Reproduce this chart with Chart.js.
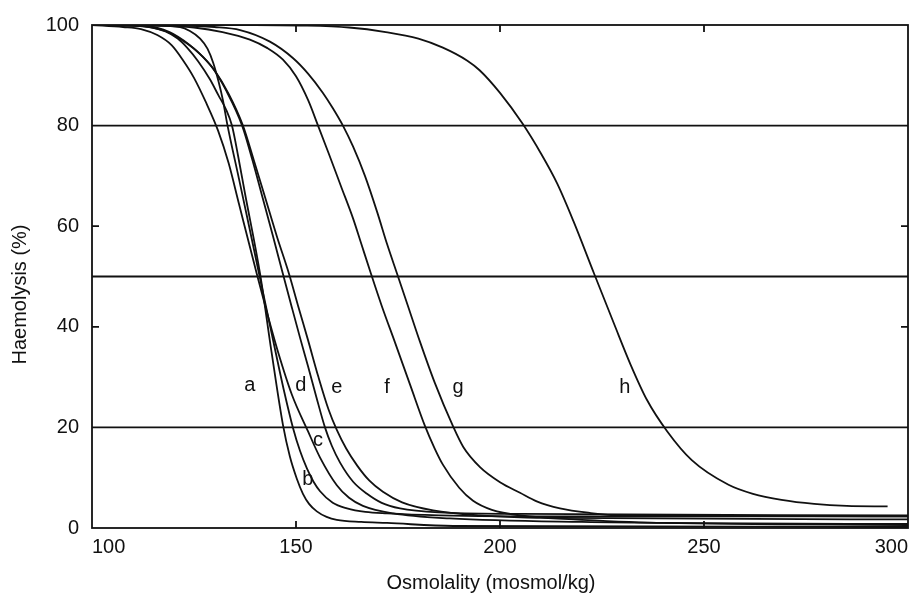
<!DOCTYPE html>
<html lang="en">
<head>
    <meta charset="UTF-8">
    <title>Haemolysis vs Osmolality</title>
    <script src="https://cdn.jsdelivr.net/npm/chart.js"></script>
    <style>
        html, body { margin: 0; padding: 0; background: #fff; }
        #wrap { width: 920px; height: 600px; }
    </style>
</head>
<body>
    <div id="wrap"><canvas id="osmoChart" width="920" height="600"></canvas></div>

    <script>
        // Curves: osmolality (mosmol/kg) vs haemolysis (%)
        const aX = [100, 110, 114.2, 118, 121, 123.3, 126, 128.9, 131, 132.8, 134.3, 135.8, 137.5, 141.2, 144, 146.8, 148.5, 150.2, 151.7, 153.2, 155.1, 157.5, 160, 166, 172.3, 188.5, 300];
        const aY = [100, 99.9, 99.6, 98.7, 97.3, 95.5, 92.8, 89.2, 86, 83.3, 80, 74, 66.5, 50.5, 35, 20.5, 14.2, 9.8, 6.8, 4.8, 3.3, 2.2, 1.6, 1.2, 1.0, 0.4, 0.2];

        const bX = [100, 115, 121.6, 124, 126.5, 128.3, 129.7, 131, 132.1, 133.1, 136, 138.5, 140.7, 145, 147, 149.3, 151, 152.7, 154.3, 155.9, 159, 162.5, 167, 172.3, 185, 204.9, 300];
        const bY = [100, 99.9, 99.6, 98.8, 97.3, 95.3, 92.5, 88.8, 85, 80.5, 69.5, 60, 51.5, 35, 27.5, 19.8, 15.3, 11.8, 9.2, 7.3, 5.0, 3.9, 3.2, 2.9, 2.5, 2.3, 2.3];

        const cX = [100, 107.6, 112, 116, 119.5, 122.3, 125, 128, 130.9, 133.5, 136, 140.4, 143, 145.6, 149, 152.9, 155.9, 160, 163, 166.4, 173.8, 187.7, 220, 300];
        const cY = [100, 99.6, 99.2, 98, 96, 93, 89.5, 84.5, 79, 72.5, 64.5, 50.5, 42.5, 35, 26.5, 19.3, 14, 8.5, 6, 4.4, 2.9, 1.9, 1.2, 0.8];

        const dX = [100, 111.8, 118, 123.3, 126.5, 129.7, 133, 136.8, 139.3, 141.7, 144.3, 146.8, 149, 151, 153, 155, 157.1, 158.8, 160.8, 164, 167.4, 171, 175.5, 185, 204.9, 300];
        const dY = [100, 99.8, 98.8, 96.3, 94.2, 91.3, 86.8, 80, 73.2, 66, 58.2, 50.5, 43.8, 37.8, 32, 26, 20, 16.3, 13, 9.2, 6.8, 5.0, 3.9, 3.1, 2.8, 2.5];

        const eX = [100, 113, 119, 124, 127, 130.1, 133.5, 137, 139.7, 142.4, 145.3, 148.3, 150.5, 152.9, 155.5, 158, 160, 162.3, 165, 168, 171.3, 176, 183.6, 195, 210, 240, 300];
        const eY = [100, 99.8, 98.6, 96, 93.8, 90.9, 86.3, 80, 73, 65.8, 58, 50.5, 44.2, 37.5, 30, 23.5, 19.5, 15.8, 12.4, 9.4, 7.2, 5.1, 3.5, 2.5, 2.0, 1.0, 0.6];

        const fX = [100, 115, 125, 132, 138.7, 143, 146.8, 150, 153, 155.4, 158, 161, 164, 166, 168.4, 171, 174.3, 178, 181.6, 184, 186, 190, 193.4, 198, 205, 215, 300];
        const fY = [100, 99.9, 99.5, 98.6, 97.1, 95.4, 93.1, 89.8, 85, 80, 74.5, 68, 61.5, 56.5, 50.5, 44.2, 36.8, 28.4, 20.3, 15.8, 12.6, 8.0, 5.4, 3.6, 2.5, 2.0, 1.7];

        const gX = [100, 120, 130, 136.3, 143.6, 149.3, 153, 156.6, 159, 161.5, 164, 166.9, 169.9, 172.3, 174.8, 177.5, 180.4, 184, 188.5, 191, 195.1, 200, 204.9, 209, 214.7, 222, 229.4, 300];
        const gY = [100, 99.9, 99.6, 99, 96.7, 93.4, 90.3, 86.5, 83.5, 80, 75.8, 70, 62.8, 56.5, 50.5, 44, 37, 28.9, 20.2, 16.1, 12.1, 9.1, 7.0, 5.3, 3.9, 3.0, 2.5, 2.3];

        const hX = [100, 140, 151, 163, 172, 180, 186, 192, 195, 200, 205.6, 210, 214, 218, 223, 228, 232, 236, 241, 247, 256, 262, 269, 277, 285, 295];
        const hY = [100, 100, 99.9, 99.5, 98.6, 97.3, 95.5, 92.9, 91, 86.5, 80.3, 74.5, 68.5, 61, 50.7, 40.5, 32.5, 25.5, 19.2, 13.5, 8.6, 6.8, 5.6, 4.8, 4.4, 4.3];

        // curve letters and where they sit (data units)
        const curveNames = ["a", "b", "c", "d", "e", "f", "g", "h"];
        const labelX = [138.7, 152.9, 155.4, 151.2, 160.0, 172.3, 189.7, 230.6];
        const labelY = [28.4, 9.7, 17.4, 28.4, 27.9, 27.9, 27.9, 27.9];

        // horizontal reference lines and small inward tick marks
        const refLevels = [80, 50, 20];
        const yTickMarks = [20, 40, 60, 80];
        const xTickMarks = [150, 200, 250];

        const xTitle = "Osmolality (mosmol/kg)";
        const yTitle = "Haemolysis (%)";

        const ink = "#111";
        const fontFamily = "'Liberation Sans', Arial, sans-serif";

        const series = [[aX, aY], [bX, bY], [cX, cY], [dX, dY], [eX, eY], [fX, fY], [gX, gY], [hX, hY]];
        const datasets = series.map((s, i) => ({
            label: curveNames[i],
            data: s[0].map((x, j) => ({ x: x, y: s[1][j] })),
            borderColor: ink,
            borderWidth: 1.8,
            pointRadius: 0,
            fill: false,
            cubicInterpolationMode: "monotone"
        }));

        // frame, reference lines, inward ticks, curve letters, axis titles
        const decorations = {
            id: "decorations",
            beforeDatasetsDraw(chart) {
                const { ctx, chartArea: area, scales } = chart;
                const x = scales.x, y = scales.y;
                ctx.save();
                ctx.strokeStyle = ink;
                ctx.lineWidth = 1.8;
                ctx.strokeRect(area.left, area.top, area.right - area.left, area.bottom - area.top);
                ctx.beginPath();
                refLevels.forEach(v => {
                    const py = y.getPixelForValue(v);
                    ctx.moveTo(area.left, py);
                    ctx.lineTo(area.right, py);
                });
                yTickMarks.forEach(v => {
                    const py = y.getPixelForValue(v);
                    ctx.moveTo(area.left, py);
                    ctx.lineTo(area.left + 7, py);
                    ctx.moveTo(area.right - 7, py);
                    ctx.lineTo(area.right, py);
                });
                xTickMarks.forEach(v => {
                    const px = x.getPixelForValue(v);
                    ctx.moveTo(px, area.bottom);
                    ctx.lineTo(px, area.bottom - 7);
                    ctx.moveTo(px, area.top);
                    ctx.lineTo(px, area.top + 7);
                });
                ctx.stroke();
                ctx.restore();
            },
            afterDatasetsDraw(chart) {
                const { ctx, chartArea: area, scales } = chart;
                const x = scales.x, y = scales.y;
                ctx.save();
                ctx.fillStyle = ink;
                ctx.font = "20px " + fontFamily;
                ctx.textAlign = "center";
                ctx.textBaseline = "middle";
                curveNames.forEach((name, i) => {
                    ctx.fillText(name, x.getPixelForValue(labelX[i]), y.getPixelForValue(labelY[i]));
                });
                ctx.fillText(xTitle, (area.left + area.right) / 2 - 9, 583);
                ctx.translate(20, (area.top + area.bottom) / 2 + 18);
                ctx.rotate(-Math.PI / 2);
                ctx.fillText(yTitle, 0, 0);
                ctx.restore();
            }
        };

        const ctx = document.getElementById("osmoChart").getContext("2d");
        new Chart(ctx, {
            type: "line",
            data: { datasets: datasets },
            options: {
                responsive: false,
                animation: false,
                layout: { padding: { top: 13, right: 12, bottom: 0, left: 0 } },
                plugins: {
                    legend: { display: false },
                    tooltip: { enabled: false }
                },
                scales: {
                    x: {
                        type: "linear",
                        min: 100,
                        max: 300,
                        afterFit: scale => { scale.height = 72; },
                        grid: { display: false, drawTicks: false },
                        border: { display: false },
                        ticks: {
                            stepSize: 50,
                            align: "inner",
                            padding: 7,
                            color: ink,
                            font: { family: fontFamily, size: 20 }
                        }
                    },
                    y: {
                        min: 0,
                        max: 100,
                        afterFit: scale => { scale.width = 92; },
                        grid: { display: false, drawTicks: false },
                        border: { display: false },
                        ticks: {
                            stepSize: 20,
                            padding: 13,
                            color: ink,
                            font: { family: fontFamily, size: 20 }
                        }
                    }
                }
            },
            plugins: [decorations]
        });
    </script>
</body>
</html>
